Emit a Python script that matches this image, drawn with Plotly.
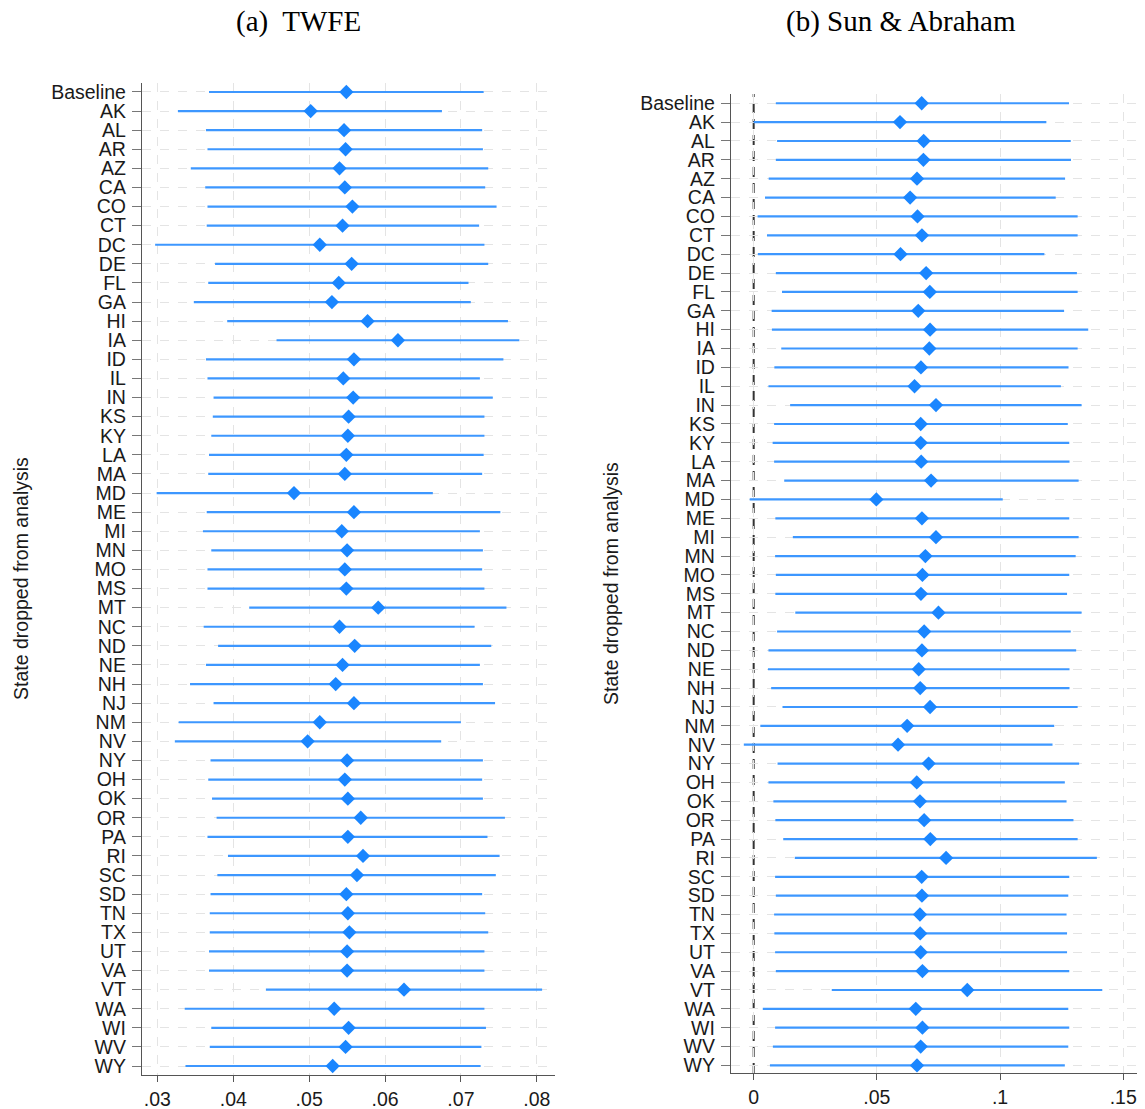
import plotly.graph_objects as go

states = ["Baseline", "AK", "AL", "AR", "AZ", "CA", "CO", "CT", "DC", "DE", "FL", "GA", "HI", "IA",
          "ID", "IL", "IN", "KS", "KY", "LA", "MA", "MD", "ME", "MI", "MN", "MO", "MS", "MT",
          "NC", "ND", "NE", "NH", "NJ", "NM", "NV", "NY", "OH", "OK", "OR", "PA", "RI", "SC",
          "SD", "TN", "TX", "UT", "VA", "VT", "WA", "WI", "WV", "WY"]

# (a) TWFE
twfe_est = [0.0549, 0.0502, 0.0546, 0.0548, 0.0540, 0.0547, 0.0557, 0.0544, 0.0514, 0.0556, 0.0539, 0.0530, 0.0577, 0.0617,
            0.0559, 0.0545, 0.0558, 0.0552, 0.0551, 0.0549, 0.0547, 0.0480, 0.0559, 0.0543, 0.0550, 0.0547, 0.0549, 0.0591,
            0.0540, 0.0560, 0.0544, 0.0535, 0.0559, 0.0514, 0.0498, 0.0550, 0.0547, 0.0551, 0.0568, 0.0551, 0.0571, 0.0563,
            0.0549, 0.0551, 0.0553, 0.0550, 0.0550, 0.0625, 0.0533, 0.0552, 0.0548, 0.0531]
twfe_lo = [0.0368, 0.0327, 0.0364, 0.0366, 0.0344, 0.0363, 0.0366, 0.0365, 0.0297, 0.0376, 0.0367, 0.0348, 0.0392, 0.0457,
           0.0364, 0.0366, 0.0374, 0.0373, 0.0371, 0.0368, 0.0367, 0.0299, 0.0365, 0.0360, 0.0371, 0.0366, 0.0366, 0.0421,
           0.0361, 0.0380, 0.0364, 0.0343, 0.0374, 0.0328, 0.0323, 0.0370, 0.0367, 0.0372, 0.0378, 0.0366, 0.0393, 0.0379,
           0.0370, 0.0369, 0.0369, 0.0368, 0.0368, 0.0443, 0.0336, 0.0371, 0.0369, 0.0337]
twfe_hi = [0.0730, 0.0675, 0.0728, 0.0729, 0.0736, 0.0732, 0.0747, 0.0724, 0.0731, 0.0736, 0.0710, 0.0713, 0.0762, 0.0777,
           0.0756, 0.0725, 0.0742, 0.0731, 0.0731, 0.0730, 0.0728, 0.0663, 0.0752, 0.0725, 0.0729, 0.0728, 0.0731, 0.0760,
           0.0718, 0.0740, 0.0725, 0.0729, 0.0745, 0.0700, 0.0674, 0.0729, 0.0728, 0.0729, 0.0758, 0.0735, 0.0751, 0.0746,
           0.0728, 0.0732, 0.0736, 0.0731, 0.0731, 0.0807, 0.0731, 0.0733, 0.0727, 0.0726]

# (b) Sun & Abraham
sa_est = [0.0682, 0.0594, 0.0690, 0.0689, 0.0663, 0.0635, 0.0665, 0.0683, 0.0596, 0.0700, 0.0715, 0.0668, 0.0716, 0.0713,
          0.0679, 0.0653, 0.0740, 0.0678, 0.0678, 0.0680, 0.0720, 0.0498, 0.0683, 0.0740, 0.0697, 0.0685, 0.0679, 0.0750,
          0.0692, 0.0683, 0.0670, 0.0676, 0.0716, 0.0623, 0.0586, 0.0710, 0.0662, 0.0675, 0.0692, 0.0717, 0.0781, 0.0682,
          0.0683, 0.0675, 0.0676, 0.0678, 0.0685, 0.0867, 0.0658, 0.0685, 0.0678, 0.0663]
sa_lo = [0.0090, 0.0000, 0.0095, 0.0090, 0.0061, 0.0046, 0.0016, 0.0054, 0.0017, 0.0090, 0.0115, 0.0073, 0.0074, 0.0112,
         0.0084, 0.0060, 0.0148, 0.0083, 0.0077, 0.0083, 0.0124, -0.0016, 0.0088, 0.0159, 0.0087, 0.0090, 0.0088, 0.0169,
         0.0095, 0.0060, 0.0058, 0.0071, 0.0117, 0.0027, -0.0040, 0.0097, 0.0060, 0.0080, 0.0088, 0.0120, 0.0167, 0.0087,
         0.0090, 0.0083, 0.0084, 0.0087, 0.0090, 0.0317, 0.0037, 0.0087, 0.0078, 0.0066]
sa_hi = [0.1280, 0.1188, 0.1287, 0.1288, 0.1264, 0.1226, 0.1315, 0.1315, 0.1180, 0.1312, 0.1315, 0.1260, 0.1358, 0.1315,
         0.1278, 0.1247, 0.1331, 0.1275, 0.1281, 0.1282, 0.1319, 0.1011, 0.1281, 0.1319, 0.1307, 0.1281, 0.1272, 0.1331,
         0.1287, 0.1309, 0.1282, 0.1282, 0.1315, 0.1220, 0.1213, 0.1321, 0.1263, 0.1270, 0.1298, 0.1315, 0.1393, 0.1281,
         0.1277, 0.1270, 0.1272, 0.1272, 0.1281, 0.1415, 0.1277, 0.1281, 0.1277, 0.1263]

twfe_ticks = [0.03, 0.04, 0.05, 0.06, 0.07, 0.08]
twfe_ticktext = [".03", ".04", ".05", ".06", ".07", ".08"]
sa_ticks = [0, 0.05, 0.1, 0.15]
sa_ticktext = ["0", ".05", ".1", ".15"]

# page body has an 8px margin: offset all positions by it
OFF = 8
W, H = 1145 - OFF, 1109 - OFF
BLUE = "#1a86ff"
LINE = "#3d97ff"
SANS = "Liberation Sans, Arial, sans-serif"
SERIF = "Liberation Serif, Times New Roman, serif"

ypos = list(range(len(states)))

def px_x(p):
    return (p - OFF) / W

def px_y(p):
    return 1 - (p - OFF) / H

fig = go.Figure()

for est, lo, hi, xa, ya in [(twfe_est, twfe_lo, twfe_hi, "x", "y"), (sa_est, sa_lo, sa_hi, "x2", "y2")]:
    fig.add_trace(go.Scatter(
        x=est, y=ypos, xaxis=xa, yaxis=ya, mode="markers",
        marker=dict(symbol="diamond", size=11, color=BLUE, line=dict(width=0)),
        error_x=dict(type="data", symmetric=False,
                     array=[h - e for h, e in zip(hi, est)],
                     arrayminus=[e - l for e, l in zip(est, lo)],
                     width=0, thickness=2.2, color=LINE),
        showlegend=False, hoverinfo="skip"))

common_y = dict(tickmode="array", tickvals=ypos, ticktext=states,
                showgrid=True, gridcolor="#e4e4e4", griddash="dash", gridwidth=1,
                showline=True, linecolor="#555555", linewidth=1.3,
                ticks="outside", ticklen=9, tickcolor="#777777", tickwidth=1.3,
                tickfont=dict(family=SANS, size=19.5, color="#1a1a1a"),
                zeroline=False, automargin=False, ticklabelstandoff=2)
common_x = dict(showgrid=True, gridcolor="#e4e4e4", griddash="dash", gridwidth=1,
                showline=True, linecolor="#555555", linewidth=1.3,
                ticks="outside", ticklen=6, tickcolor="#555555", tickwidth=1.3,
                tickfont=dict(family=SANS, size=19.5, color="#1a1a1a"),
                zeroline=False, automargin=False, tickmode="array")

fig.update_layout(
    width=W, height=H,
    margin=dict(l=0, r=0, t=0, b=0),
    paper_bgcolor="white", plot_bgcolor="white",
    xaxis=dict(common_x, domain=[px_x(142), px_x(555)], range=[0.02797, 0.0824],
               tickvals=twfe_ticks, ticktext=twfe_ticktext, anchor="y"),
    yaxis=dict(common_y, domain=[px_y(1075), px_y(83)], range=[51.47, -0.47], anchor="x"),
    xaxis2=dict(common_x, domain=[px_x(731), px_x(1138)], range=[-0.0092, 0.1560],
                tickvals=sa_ticks, ticktext=sa_ticktext, anchor="y2"),
    yaxis2=dict(common_y, domain=[px_y(1073), px_y(94)], range=[51.4, -0.49], anchor="x2"),
)

# vertical dashed reference line at zero in panel (b)
fig.add_shape(type="line", xref="x2", yref="y2 domain", x0=0, x1=0, y0=0, y1=1,
              line=dict(color="#333333", width=2, dash="10px,6px"), layer="below")

annotations = [
    dict(text="(a)  TWFE", x=px_x(298), y=px_y(22), xref="paper", yref="paper",
         showarrow=False, font=dict(family=SERIF, size=29, color="black"), xanchor="center", yanchor="middle"),
    dict(text="(b) Sun &amp; Abraham", x=px_x(901), y=px_y(22), xref="paper", yref="paper",
         showarrow=False, font=dict(family=SERIF, size=29, color="black"), xanchor="center", yanchor="middle"),
    dict(text="State dropped from analysis", x=px_x(21), y=px_y(579), xref="paper", yref="paper",
         showarrow=False, textangle=-90, font=dict(family=SANS, size=19.5, color="#1a1a1a"),
         xanchor="center", yanchor="middle"),
    dict(text="State dropped from analysis", x=px_x(611), y=px_y(584), xref="paper", yref="paper",
         showarrow=False, textangle=-90, font=dict(family=SANS, size=19.5, color="#1a1a1a"),
         xanchor="center", yanchor="middle"),
]
fig.update_layout(annotations=annotations)

fig.write_html("out.html")
